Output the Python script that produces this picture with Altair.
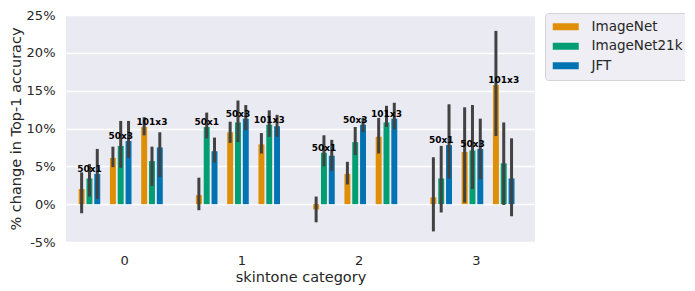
import altair as alt
import pandas as pd

categories = ["0", "1", "2", "3"]
models = ["50x1", "50x3", "101x3"]
datasets = ["ImageNet", "ImageNet21k", "JFT"]
colors = ["#DE8F05", "#029E73", "#0173B2"]

# per category: 9 values ordered model-major (50x1, 50x3, 101x3), dataset-minor
mean_0 = [2.0, 3.4, 4.0, 6.1, 7.7, 8.35, 10.2, 5.7, 7.5]
lo_0 = [-1.2, 1.0, 0.7, 4.9, 4.8, 6.1, 9.1, 2.4, 3.6]
hi_0 = [4.2, 5.3, 7.3, 7.6, 11.0, 11.0, 11.5, 7.6, 9.5]

mean_1 = [1.2, 10.2, 7.0, 9.5, 10.8, 11.3, 7.9, 10.5, 10.3]
lo_1 = [-0.8, 8.7, 5.5, 8.1, 8.2, 9.8, 6.7, 8.9, 8.9]
hi_1 = [3.5, 12.1, 8.8, 10.9, 13.7, 13.1, 9.4, 12.4, 11.8]

mean_2 = [-0.7, 6.8, 6.4, 4.0, 8.2, 10.5, 8.9, 10.8, 11.3]
lo_2 = [-2.4, 5.0, 4.4, 2.6, 6.5, 9.5, 6.7, 10.2, 9.9]
hi_2 = [1.0, 9.1, 8.5, 5.6, 10.2, 11.4, 11.4, 13.0, 13.4]

mean_3 = [0.9, 3.4, 7.8, 6.9, 7.1, 7.3, 15.75, 5.4, 3.4]
lo_3 = [-3.6, -1.1, 3.4, 0.2, 2.0, 3.3, 9.0, -0.1, -1.6]
hi_3 = [6.2, 7.7, 13.2, 12.8, 13.1, 11.3, 22.9, 10.8, 8.7]

y_ticks = [-5, 0, 5, 10, 15, 20, 25]

means = [mean_0, mean_1, mean_2, mean_3]
los = [lo_0, lo_1, lo_2, lo_3]
his = [hi_0, hi_1, hi_2, hi_3]

rows = []
for ci, cat in enumerate(categories):
    for mi, m in enumerate(models):
        for di, d in enumerate(datasets):
            k = mi * 3 + di
            rows.append({
                "category": cat, "model": m, "dataset": d,
                "slot": mi * 4 + di, "labelslot": mi * 4 + 1,
                "value": means[ci][k], "lo": los[ci][k], "hi": his[ci][k],
            })
df = pd.DataFrame(rows)

FONT = "DejaVu Sans"
TXT = "#262626"

x_enc = alt.X(
    "category:N",
    scale=alt.Scale(domain=categories, paddingInner=0.2, paddingOuter=0.1),
    axis=alt.Axis(title="skintone category", labelAngle=0, domain=False, ticks=False,
                  grid=False, labelPadding=12, titlePadding=3),
)
y_scale = alt.Scale(domain=[-5, 25], nice=False, zero=False)
y_axis = alt.Axis(title="% change in Top-1 accuracy", values=y_ticks,
                  labelExpr="datum.value + '%'", domain=False, ticks=False,
                  grid=True, gridColor="white", gridWidth=1.3, labelOverlap=False,
                  labelPadding=11, titlePadding=3)
off_scale = alt.Scale(domain=list(range(12)), paddingInner=0.24, paddingOuter=0.12)

base = alt.Chart(df)

bars = base.mark_bar().encode(
    x=x_enc,
    xOffset=alt.XOffset("slot:O", scale=off_scale),
    y=alt.Y("value:Q", scale=y_scale, axis=y_axis),
    color=alt.Color(
        "dataset:N",
        scale=alt.Scale(domain=datasets, range=colors),
        legend=alt.Legend(
            title=None, orient="none", legendX=479, legendY=-2,
            symbolType="M-1,-0.583H3.333V0.583H-1Z", symbolSize=144,
            symbolStrokeWidth=0, symbolOpacity=1,
            labelFont=FONT, labelFontSize=13.5, labelColor=TXT, labelOffset=26,
            padding=7, rowPadding=4.5, cornerRadius=3,
            strokeColor="#d4d4d4", fillColor="#eeeef4",
        ),
    ),
)

errs = base.mark_rule(color="#424242", strokeWidth=3).encode(
    x=x_enc,
    xOffset=alt.XOffset("slot:O", scale=off_scale),
    y=alt.Y("lo:Q", scale=y_scale, axis=y_axis),
    y2="hi:Q",
)

labels = base.transform_aggregate(
    top="max(value)", groupby=["category", "model", "labelslot"]
).mark_text(font=FONT, fontSize=9, fontWeight="bold", baseline="bottom",
            color="black").encode(
    x=x_enc,
    xOffset=alt.XOffset("labelslot:O", scale=off_scale),
    y=alt.Y("top:Q", scale=y_scale, axis=y_axis),
    text="model:N",
)

chart = alt.layer(bars, errs, labels).properties(
    width=469, height=227,
    background="white",
    autosize=alt.AutoSizeParams(type="none"),
    padding={"left": 58, "top": 7, "right": 150, "bottom": 50},
).configure_view(
    fill="#EAEAF2", stroke=None
).configure_axis(
    labelFont=FONT, titleFont=FONT, labelFontSize=13, titleFontSize=14.5,
    labelColor=TXT, titleColor=TXT, titleFontWeight="normal",
)

chart.save("out.html", embed_options={"renderer": "svg", "actions": False})
